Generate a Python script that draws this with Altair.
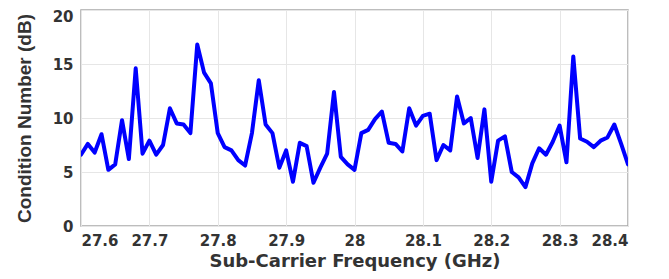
import altair as alt
import pandas as pd

freq_ghz = [
    27.60, 27.61, 27.62, 27.63, 27.64, 27.65, 27.66, 27.67, 27.68, 27.69,
    27.70, 27.71, 27.72, 27.73, 27.74, 27.75, 27.76, 27.77, 27.78, 27.79,
    27.80, 27.81, 27.82, 27.83, 27.84, 27.85, 27.86, 27.87, 27.88, 27.89,
    27.90, 27.91, 27.92, 27.93, 27.94, 27.95, 27.96, 27.97, 27.98, 27.99,
    28.00, 28.01, 28.02, 28.03, 28.04, 28.05, 28.06, 28.07, 28.08, 28.09,
    28.10, 28.11, 28.12, 28.13, 28.14, 28.15, 28.16, 28.17, 28.18, 28.19,
    28.20, 28.21, 28.22, 28.23, 28.24, 28.25, 28.26, 28.27, 28.28, 28.29,
    28.30, 28.31, 28.32, 28.33, 28.34, 28.35, 28.36, 28.37, 28.38, 28.39,
    28.40,
]

cond_db = [
    6.6, 7.6, 6.8, 8.5, 5.2, 5.7, 9.8, 6.2, 14.6, 6.7,
    7.9, 6.6, 7.5, 10.9, 9.5, 9.4, 8.6, 16.8, 14.2, 13.2,
    8.6, 7.3, 7.0, 6.1, 5.6, 8.6, 13.5, 9.4, 8.6, 5.4,
    7.0, 4.1, 7.7, 7.4, 4.0, 5.4, 6.7, 12.4, 6.4, 5.7,
    5.2, 8.6, 8.9, 9.9, 10.6, 7.7, 7.6, 6.9, 10.9, 9.3,
    10.2, 10.4, 6.1, 7.5, 7.0, 12.0, 9.5, 10.0, 6.3, 10.8,
    4.1, 7.9, 8.3, 5.0, 4.5, 3.6, 5.8, 7.2, 6.6, 7.8,
    9.3, 5.9, 15.7, 8.1, 7.8, 7.3, 7.9, 8.2, 9.4, 7.6,
    5.7,
]

x_ticks = [27.6, 27.7, 27.8, 27.9, 28.0, 28.1, 28.2, 28.3, 28.4]
y_ticks = [0, 5, 10, 15, 20]

df = pd.DataFrame({"f": freq_ghz, "c": cond_db})

WIDE = "DejaVu Sans"
NARROW = "Liberation Sans"
TXT = "#333333"

x_scale = alt.Scale(domain=[27.6, 28.4], nice=False, zero=False)
y_scale = alt.Scale(domain=[0, 20], nice=False)

line = alt.Chart(df).mark_line(
    color="#0000ff", strokeWidth=4, strokeJoin="round", strokeCap="round", clip=True
).encode(
    x=alt.X(
        "f:Q",
        scale=x_scale,
        axis=alt.Axis(
            values=x_ticks,
            format="~g",
            title="Sub-Carrier Frequency (GHz)",
            ticks=False,
            domain=False,
            labelPadding=7,
            titlePadding=4,
            labelFontSize=15,
            labelFontWeight="bold",
            labelColor=TXT,
            titleFontSize=18,
            titleFontWeight="bold",
            titleColor=TXT,
            labelFont=WIDE,
            titleFont=WIDE,
            gridColor="#e6e6e6",
            gridWidth=1,
        ),
    ),
    y=alt.Y(
        "c:Q",
        scale=y_scale,
        axis=alt.Axis(
            values=y_ticks,
            title="Condition Number (dB)",
            ticks=False,
            domain=False,
            labelPadding=8,
            labelOffset={"condition": {"test": "datum.value == 20", "value": 6}, "value": 0},
            titlePadding=18,
            labelFontSize=15,
            labelFontWeight="bold",
            labelColor=TXT,
            titleFontSize=19,
            titleFontWeight="bold",
            titleColor=TXT,
            labelFont=WIDE,
            titleFont=NARROW,
            gridColor="#e6e6e6",
            gridWidth=1,
        ),
    ),
)

chart = line.properties(
    width=547,
    height=216,
    padding={"left": 73, "top": 2, "right": 33, "bottom": 45},
    autosize=alt.AutoSizeParams(type="none"),
    background="white",
).configure_view(
    stroke="#a8a8a8", strokeWidth=1.5
)

chart.save("out.html", embed_options={"renderer": "svg", "actions": False})
